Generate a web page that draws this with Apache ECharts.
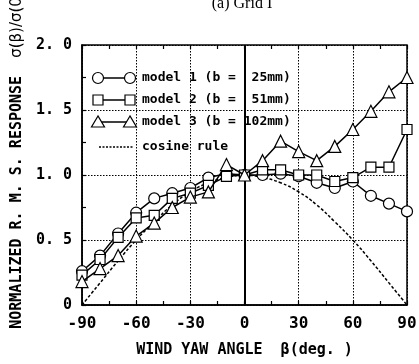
<!DOCTYPE html>
<html>
<head>
<meta charset="utf-8">
<script src="https://cdn.jsdelivr.net/npm/echarts@6/dist/echarts.min.js"></script>
<style>html,body{margin:0;padding:0;background:#fff}#c{width:419px;height:364px}</style>
</head>
<body>
<div id="c"></div>
<script>
const angles = [-90,-80,-70,-60,-50,-40,-30,-20,-10,0,10,20,30,40,50,60,70,80,90];
const model1 = [0.26,0.38,0.55,0.71,0.82,0.86,0.90,0.98,1.01,1.00,1.00,1.01,0.99,0.94,0.90,0.95,0.84,0.78,0.72];
const model2 = [0.23,0.35,0.52,0.67,0.69,0.82,0.86,0.92,0.99,1.00,1.04,1.04,1.00,1.00,0.95,0.98,1.06,1.06,1.35];
const model3 = [0.18,0.28,0.38,0.53,0.63,0.75,0.83,0.87,1.08,1.00,1.11,1.26,1.18,1.11,1.22,1.35,1.49,1.64,1.75];
const cosine = [0.00,0.17,0.34,0.50,0.64,0.77,0.87,0.94,0.98,1.00,0.98,0.94,0.87,0.77,0.64,0.50,0.34,0.17,0.00];
const seriesNames = ['model 1 (b =  25mm)','model 2 (b =  51mm)','model 3 (b = 102mm)','cosine rule'];
const symbols = ['circle','rect','triangle'];
const xTicks = [-90,-60,-30,0,30,60,90];
const yTicks = ['0','0. 5','1. 0','1. 5','2. 0'];
const titleText = '(a) Grid I';
const xName = 'WIND YAW ANGLE  β(deg. )';

const MONO = '"DejaVu Sans Mono", monospace';
const chart = echarts.init(document.getElementById('c'));

function pairs(vals){ return angles.map((a,i)=>[a, vals[i]]); }

const markerSeries = [model1, model2, model3].map((vals, i) => ({
  name: seriesNames[i],
  type: 'line',
  data: pairs(vals),
  symbol: symbols[i],
  symbolSize: i === 1 ? 10 : (i === 2 ? 12 : 11),
  showAllSymbol: true,
  lineStyle: {color: '#000', width: 1.5},
  itemStyle: {color: '#fff', borderColor: '#000', borderWidth: 1.2},
  z: 3 + i,
  animation: false
}));

// legend built as graphic
const legY = [78, 100, 122, 147];
const legendGraphics = [];
for (let i = 0; i < 4; i++) {
  const y = legY[i];
  if (i < 3) {
    legendGraphics.push({type:'line', shape:{x1:98,y1:y,x2:130,y2:y}, style:{stroke:'#000', lineWidth:1.5}, z:10});
    [98,130].forEach(x => {
      let g;
      if (i === 0) g = {type:'circle', shape:{cx:x, cy:y, r:5.5}};
      else if (i === 1) g = {type:'rect', shape:{x:x-5, y:y-5, width:10, height:10}};
      else g = {type:'polygon', shape:{points:[[x, y-6],[x-6.5, y+5],[x+6.5, y+5]]}};
      g.style = {fill:'#fff', stroke:'#000', lineWidth:1.2};
      g.z = 11;
      legendGraphics.push(g);
    });
  } else {
    legendGraphics.push({type:'line', shape:{x1:99,y1:y,x2:134,y2:y}, style:{stroke:'#000', lineWidth:1.5, lineDash:[2,1.5]}, z:10});
  }
  legendGraphics.push({type:'text', x:142, y:y, style:{text:seriesNames[i], font:'bold 13px ' + MONO, fill:'#000', textVerticalAlign:'middle', textAlign:'left'}, z:10});
}

chart.setOption({
  animation: false,
  backgroundColor: '#fff',
  title: {
    text: titleText, left: 237, top: -9, textAlign: 'center',
    textStyle: {fontFamily: '"Liberation Serif", serif', fontWeight: 'normal', fontSize: 16, color: '#000'}
  },
  grid: {left: 82, right: 12, top: 45, bottom: 59, show: true, borderColor: '#000', borderWidth: 1.5,
    backgroundColor: 'transparent', containLabel: false, outerBoundsMode: 'none'},
  xAxis: [{
    type: 'value', min: -90, max: 90, interval: 30,
    name: xName, nameLocation: 'middle', nameGap: 38,
    nameTextStyle: {fontFamily: MONO, fontWeight: 'bold', fontSize: 15, color: '#000'},
    axisLine: {show: true, onZero: false, lineStyle: {color: '#000', width: 1.5}},
    axisTick: {show: true, inside: true, length: 4, lineStyle: {color: '#000', width: 1.2}},
    minorTick: {show: true, splitNumber: 2, length: 4, lineStyle: {color: '#000', width: 1.2}},
    axisLabel: {margin: 11, color: '#000', fontFamily: MONO, fontWeight: 'bold', fontSize: 16,
      formatter: v => xTicks.indexOf(v) >= 0 ? String(v) : ''},
    splitLine: {show: true, lineStyle: {color: '#000', type: [1.5, 1.5], width: 1}}
  }, {
    type: 'value', min: -90, max: 90, interval: 30, position: 'top',
    axisLine: {show: false, onZero: false},
    axisTick: {show: true, inside: true, length: 4, lineStyle: {color: '#000', width: 1.2}},
    minorTick: {show: true, splitNumber: 2, length: 4, lineStyle: {color: '#000', width: 1.2}},
    axisLabel: {show: false}, splitLine: {show: false}
  }],
  yAxis: {
    type: 'value', min: 0, max: 2, interval: 0.5,
    name: 'NORMALIZED R. M. S. RESPONSE  {s|σ(β)/σ(0)}', nameLocation: 'middle', nameGap: 47, nameRotate: 90,
    nameTextStyle: {fontFamily: MONO, fontWeight: 'bold', fontSize: 15, color: '#000', padding: [0,0,0,30],
      rich: {s: {fontFamily: '"DejaVu Sans", sans-serif', fontWeight: 'normal', fontSize: 15, color: '#000'}}},
    axisLine: {show: true, onZero: false, lineStyle: {color: '#000', width: 1.5}},
    axisTick: {show: true, inside: true, length: 4, lineStyle: {color: '#000', width: 1.2}},
    minorTick: {show: true, splitNumber: 2, length: 4, lineStyle: {color: '#000', width: 1.2}},
    axisLabel: {margin: 10, color: '#000', fontFamily: MONO, fontWeight: 'bold', fontSize: 15,
      formatter: v => yTicks[Math.round(v / 0.5)]},
    splitLine: {show: true, lineStyle: {color: '#000', type: [1.5, 1.5], width: 1}}
  },
  graphic: legendGraphics,
  series: [
    {
      name: seriesNames[3], type: 'line', data: pairs(cosine), smooth: true, symbol: 'none',
      lineStyle: {color: '#000', width: 1.5, type: [3, 2]}, z: 2,
      markLine: {silent: true, symbol: 'none', label: {show: false},
        lineStyle: {color: '#000', width: 2, type: 'solid'}, data: [{xAxis: 0}]}
    },
    ...markerSeries
  ]
});
</script>
</body>
</html>
